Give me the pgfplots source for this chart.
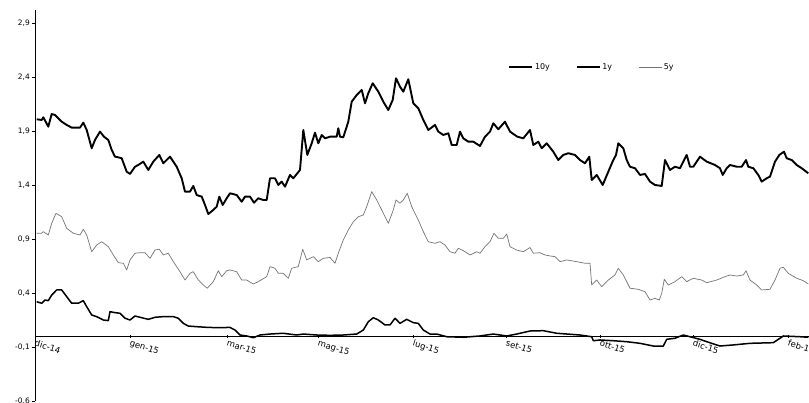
\documentclass[border=0pt]{standalone}
\usepackage{pgfplots}
\pgfplotsset{compat=1.18}
\usepackage{fontspec}
\setmainfont{DejaVu Sans}

\begin{document}
\begin{tikzpicture}
\begin{axis}[
  scale only axis,
  width=774bp, height=391bp,
  at={(0,0)}, anchor=south west,
  xmin=0, xmax=774,
  ymin=-0.6, ymax=3.02,
  axis x line*=middle,
  axis y line*=left,
  hide obscured x ticks=false,
  hide obscured y ticks=false,
  axis line style={black, line width=0.7bp},
  xtick={0,95,192,283,378,471,565,658,753},
  xticklabels={dic-14,gen-15,mar-15,mag-15,lug-15,set-15,ott-15,dic-15,feb-16},
  ytick={-0.6,-0.1,0.4,0.9,1.4,1.9,2.4,2.9},
  yticklabels={{-0,6},{-0,1},{0,4},{0,9},{1,4},{1,9},{2,4},{2,9}},
  tick style={black, line width=0.5bp},
  major tick length=3bp,
  xtick align=center,
  ytick align=outside,
  tick label style={font=\fontsize{7.5}{9}\selectfont},
  x tick label style={rotate=-17, anchor=north west, inner sep=1.5bp, font=\fontsize{8.5}{10}\selectfont},
  y tick label style={inner sep=2bp},
  legend style={at={(axis cs:470,2.49)}, anchor=west, draw=none, fill=none,
    font=\fontsize{8}{9}\selectfont, legend columns=3,
    /tikz/every even column/.append style={column sep=24bp}},
  legend image code/.code={\draw[#1] (0bp,0bp) -- (23bp,0bp);},
]
% 10y
\addplot[black, line width=1.9bp, line join=round] coordinates {
(1.7,2.008) (6.7,2.002) (8.3,2.027) (13.3,1.940) (16.7,2.057) (20,2.048)
(26.7,1.986) (31.7,1.956) (36.7,1.931) (45,1.931) (48.3,1.977) (51.7,1.909)
(56.7,1.740) (60,1.817) (65,1.894) (69,1.847) (73.3,1.817) (76.7,1.724)
(80,1.662) (83.3,1.656) (86.7,1.647) (91.7,1.523) (95,1.502) (100,1.569)
(103.3,1.585) (108.3,1.616) (113.3,1.539) (118.3,1.616) (124.3,1.678) (128.3,1.601)
(135,1.662) (141.7,1.569) (146.7,1.462) (150,1.338) (155,1.338) (158.3,1.391)
(161.7,1.307) (166.7,1.292) (170,1.215) (173.3,1.131) (178.3,1.169) (181.7,1.199)
(184.3,1.292) (187.7,1.215) (191.7,1.277) (195,1.323) (201.7,1.307) (206.7,1.245)
(210,1.292) (215,1.292) (219,1.236) (223.3,1.277) (228.3,1.261) (231.7,1.261)
(235,1.462) (240,1.462) (243.3,1.400) (246.7,1.431) (250,1.384) (255,1.493)
(258.3,1.462) (265,1.539) (268.3,1.909) (272.3,1.678) (276.7,1.786) (280,1.884)
(283.3,1.786) (286.7,1.863) (290,1.832) (295,1.847) (301.7,1.847) (303.3,1.925)
(305,1.847) (308.3,1.842) (313.3,1.986) (316.7,2.171) (321.7,2.233) (326.7,2.280)
(330,2.156) (333.3,2.249) (337.7,2.342) (343.3,2.264) (348.3,2.171) (353.3,2.094)
(357.7,2.187) (361,2.388) (365,2.310) (368.3,2.264) (373.3,2.379) (378.3,2.156)
(383.3,2.110) (388.3,2.002) (393.3,1.909) (400,1.956) (403.3,1.894) (408.3,1.863)
(413.3,1.879) (416.7,1.770) (421.7,1.770) (425,1.894) (428.3,1.832) (433.3,1.801)
(438.3,1.801) (445,1.761) (450,1.847) (455,1.894) (458.3,1.971) (463.3,1.916)
(470,1.986) (475,1.894) (482.3,1.847) (488.3,1.832) (495,1.909) (498.3,1.770)
(503.3,1.801) (506.7,1.740) (511.7,1.786) (518.3,1.708) (523.3,1.631) (528.3,1.678)
(533.3,1.694) (540,1.678) (545,1.631) (550,1.601) (554.3,1.662) (556.7,1.446)
(561.7,1.493) (567.7,1.400) (573.3,1.523) (578.3,1.631) (581,1.678) (583.3,1.786)
(588.3,1.740) (591.7,1.631) (595,1.569) (600,1.555) (605,1.493) (610,1.502)
(615,1.431) (620,1.400) (626.7,1.391) (630,1.631) (635,1.539) (640,1.569)
(645,1.555) (651.7,1.678) (655,1.569) (658.3,1.569) (665,1.662) (671.7,1.616)
(680,1.585) (685,1.555) (687.7,1.493) (691.7,1.555) (695,1.585) (701.7,1.569)
(706.7,1.569) (711,1.631) (713.3,1.569) (718.3,1.555) (723.3,1.493) (726.7,1.431)
(731.7,1.462) (735,1.477) (740,1.616) (744.3,1.678) (749,1.708) (751.7,1.647)
(756.7,1.631) (761.7,1.585) (766.7,1.555) (773.3,1.508)
};
\addlegendentry{10y}
% 1y
\addplot[black, line width=1.5bp, line join=round] coordinates {
(1.7,0.319) (6.7,0.305) (10,0.335) (13.3,0.329) (16.7,0.381) (21.7,0.428)
(26.7,0.428) (31.7,0.366) (36.7,0.305) (43.3,0.305) (48.3,0.329) (51.7,0.273)
(56.7,0.196) (61.7,0.181) (68.3,0.150) (73.3,0.144) (75,0.227) (80,0.218)
(85,0.212) (90,0.166) (95,0.150) (100,0.187) (105,0.175) (113.3,0.156)
(120,0.175) (128.3,0.181) (138.3,0.181) (143.3,0.166) (148.3,0.119) (153.3,0.094)
(161.7,0.088) (171.7,0.082) (181.7,0.079) (195,0.081) (200,0.057) (205,0.011)
(211.7,0.002) (218.3,-0.014) (225,0.011) (235,0.020) (248.3,0.027) (261.7,0.011)
(268.3,0.020) (281.7,0.011) (295,0.008) (308.3,0.011) (321.7,0.020) (328.3,0.057)
(333.3,0.134) (338.3,0.171) (343.3,0.150) (350,0.104) (355,0.104) (360,0.166)
(365,0.119) (371.7,0.156) (378.3,0.125) (383.3,0.119) (388.3,0.057) (395,0.020)
(401.7,0.020) (411.7,-0.005) (428.3,-0.010) (445,0.002) (458.3,0.020) (471.7,0.002)
(481.7,0.020) (495,0.048) (508.3,0.051) (521.7,0.027) (545,0.011) (556.7,-0.005)
(558.3,-0.042) (565,-0.035) (578.3,-0.042) (591.7,-0.051) (605,-0.066) (618.3,-0.091)
(628.3,-0.091) (631.7,-0.029) (640,-0.019) (648.3,0.011) (655,-0.005) (665,-0.029)
(671.7,-0.051) (685,-0.091) (698.3,-0.081) (715,-0.066) (738.3,-0.060) (748.3,0.002)
(765,-0.005) (773.3,-0.010)
};
\addlegendentry{1y}
% 5y
\addplot[black!55, line width=0.7bp, line join=round] coordinates {
(1.7,0.953) (6.7,0.953) (8.3,0.968) (13.3,0.937) (16.7,1.045) (21,1.138)
(26.7,1.106) (31.7,0.999) (38.3,0.953) (45,0.937) (48.3,0.990) (51.7,0.937)
(56.7,0.782) (61.7,0.844) (66.7,0.875) (73.3,0.829) (78.3,0.752) (83.3,0.681)
(88.3,0.675) (91.7,0.613) (95,0.706) (100,0.768) (105,0.773) (110,0.773)
(115,0.721) (120,0.798) (124.3,0.805) (128.3,0.752) (133.3,0.768) (138.3,0.690)
(145,0.597) (150,0.520) (155,0.582) (158.3,0.597) (163.3,0.520) (168.3,0.474)
(172.3,0.444) (178.3,0.505) (183.3,0.606) (186.7,0.551) (191.7,0.606) (195,0.613)
(201.7,0.597) (206.7,0.520) (211.7,0.520) (218.3,0.483) (223.3,0.505) (231.7,0.551)
(235,0.644) (240,0.629) (243.3,0.582) (248.3,0.582) (253.3,0.536) (256.7,0.629)
(263.3,0.644) (267.7,0.805) (271.7,0.706) (278.3,0.736) (283.3,0.690) (288.3,0.721)
(295,0.729) (300,0.675) (303.3,0.768) (308.3,0.891) (313.3,0.983) (318.3,1.060)
(323.3,1.106) (328.3,1.122) (331.7,1.199) (336.7,1.338) (341.7,1.261) (346.7,1.169)
(353.3,1.045) (358.3,1.169) (361,1.261) (365,1.231) (368.3,1.261) (372.3,1.323)
(376.7,1.199) (383.3,1.076) (388.3,0.968) (393.3,0.875) (400,0.860) (405,0.875)
(410,0.844) (415,0.782) (420,0.768) (423.3,0.814) (428.3,0.792) (435,0.752)
(441.7,0.782) (445,0.768) (450,0.829) (455,0.875) (459,0.953) (463.3,0.906)
(468.3,0.906) (471.7,0.946) (475,0.829) (481.7,0.798) (488.3,0.782) (495,0.821)
(498.3,0.768) (505,0.773) (510,0.752) (515,0.743) (520,0.736) (525,0.690)
(531.7,0.706) (541.7,0.690) (550,0.675) (555,0.675) (556.7,0.474) (561.7,0.520)
(566.7,0.458) (573.3,0.520) (580,0.567) (583.3,0.629) (588.3,0.567) (595,0.444)
(603.3,0.434) (610,0.412) (615,0.335) (620,0.351) (624.3,0.335) (626.7,0.397)
(629.3,0.527) (633.3,0.474) (640,0.505) (646.7,0.551) (651.7,0.505) (658.3,0.536)
(666.7,0.520) (671.7,0.495) (681.7,0.520) (688.3,0.545) (695,0.567) (701.7,0.557)
(708.3,0.567) (711,0.606) (715,0.520) (721.7,0.474) (726.7,0.428) (735,0.434)
(740,0.520) (745,0.629) (748.3,0.638) (753.3,0.582) (761.7,0.536) (768.3,0.514)
(773.3,0.483)
};
\addlegendentry{5y}
\end{axis}
\pgfresetboundingbox
\path[use as bounding box] (-35bp,-2bp) rectangle (774bp,401bp);
\end{tikzpicture}
\end{document}
